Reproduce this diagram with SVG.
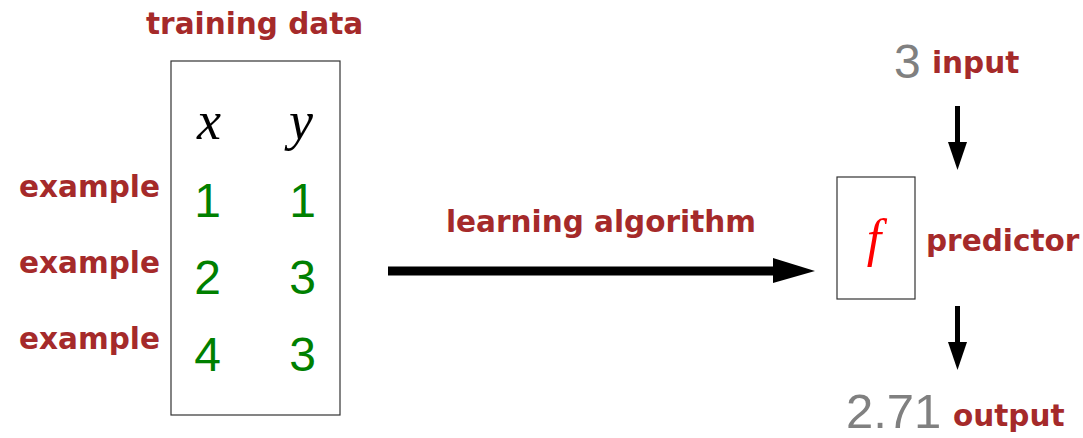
<svg xmlns="http://www.w3.org/2000/svg" width="1083" height="438" viewBox="0 0 1083 438">
<style>
.lbl{font-family:"DejaVu Sans",sans-serif;font-weight:bold;font-size:29.5px;fill:#a52a2a}
.num{font-family:"Liberation Sans",Arial,sans-serif;font-size:48px;fill:#008000;text-anchor:middle}
.gray{font-family:"Liberation Sans",Arial,sans-serif;fill:#808080}
.math{font-family:"Liberation Serif","Times New Roman",serif;font-style:italic;font-size:54px;fill:#000;text-anchor:middle}
.box{fill:#fff;stroke:#333;stroke-width:1.2}
.shaft{stroke:#000;fill:none}
.head{fill:#000}
</style>
<rect width="1083" height="438" fill="#fff"/>
<g id="training-data">
  <text class="lbl" x="146" y="34">training data</text>
  <rect class="box" x="171" y="61" width="169" height="354"/>
  <text class="math" x="209" y="139">x</text>
  <text class="math" x="301" y="139">y</text>
  <text class="num" x="207.5" y="217">1</text>
  <text class="num" x="302.5" y="217">1</text>
  <text class="num" x="207.5" y="294">2</text>
  <text class="num" x="302.5" y="294">3</text>
  <text class="num" x="207.5" y="371">4</text>
  <text class="num" x="302.5" y="371">3</text>
</g>
<g id="examples">
  <text class="lbl" x="19" y="197">example</text>
  <text class="lbl" x="19" y="273">example</text>
  <text class="lbl" x="19" y="349">example</text>
</g>
<g id="learning-label">
  <text class="lbl" x="446" y="232">learning algorithm</text>
</g>
<g id="predictor">
  <rect class="box" x="837" y="177" width="78" height="122"/>
  <text x="874" y="256" style="font-family:'Liberation Serif','Times New Roman',serif;font-style:italic;font-size:52px;fill:#ff0000;text-anchor:middle">f</text>
  <text class="lbl" x="926" y="251">predictor</text>
</g>
<g id="input">
  <text class="gray" x="894" y="78" style="font-size:48px">3</text>
  <text class="lbl" x="932" y="73">input</text>
</g>
<g id="output">
  <text class="gray" x="846" y="428" style="font-size:49px">2.71</text>
  <text class="lbl" x="953" y="426">output</text>
</g>
<g id="connectors">
  <line class="shaft" x1="388" y1="271" x2="775" y2="271" stroke-width="9"/>
  <polygon class="head" points="773,258 815,271 773,283"/>
  <line class="shaft" x1="957.5" y1="106" x2="957.5" y2="144" stroke-width="5"/>
  <polygon class="head" points="948,142 967,142 957.5,170"/>
  <line class="shaft" x1="957.5" y1="306" x2="957.5" y2="344" stroke-width="5"/>
  <polygon class="head" points="948,342 967,342 957.5,370"/>
</g>
</svg>
